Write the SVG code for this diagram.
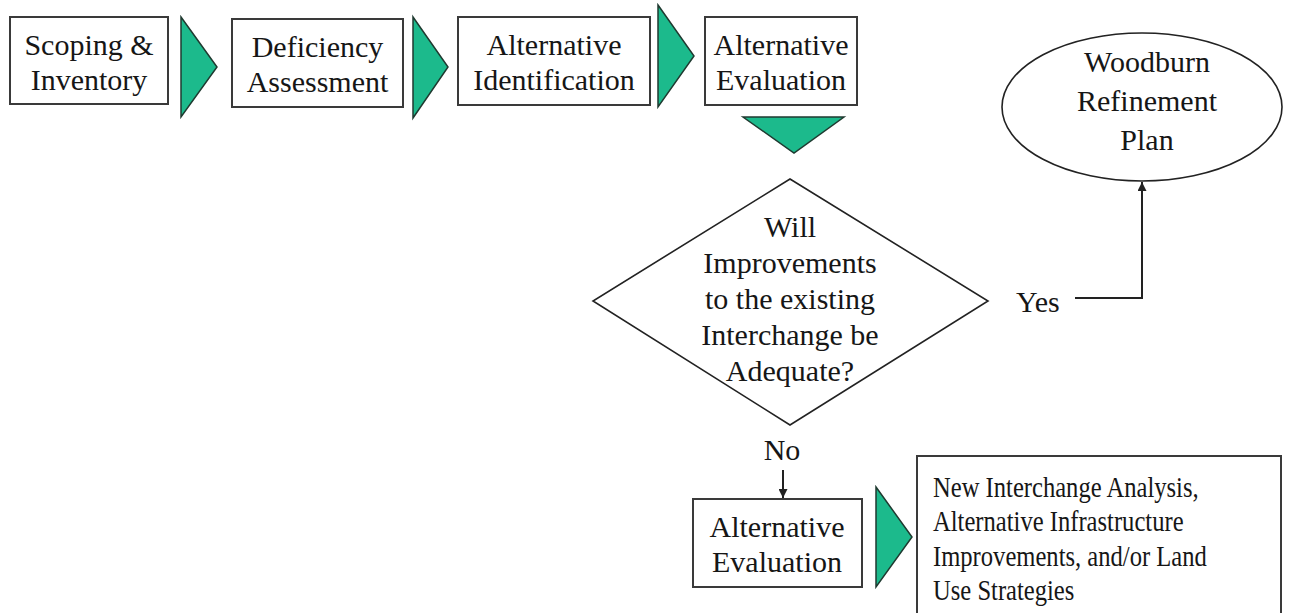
<svg xmlns="http://www.w3.org/2000/svg" width="1290" height="613" viewBox="0 0 1290 613">
<defs>
<style>
.box{fill:#fff;stroke:#3a3a3a;stroke-width:2}
.tri{fill:#1cba8c;stroke:#1f3a30;stroke-width:1.5;stroke-linejoin:miter}
.shape{fill:#fff;stroke:#222;stroke-width:1.6}
.t{font-family:"Liberation Serif","Times New Roman",serif;font-size:30px;fill:#161616}
.c{text-anchor:middle}
.line{fill:none;stroke:#222;stroke-width:2}
</style>
<marker id="arr" viewBox="0 0 10 10" refX="10" refY="5" markerWidth="11" markerHeight="9" orient="auto" markerUnits="userSpaceOnUse">
<path d="M0,0 L10,5 L0,10 z" fill="#222"/>
</marker>
</defs>
<rect width="1290" height="613" fill="#fff"/>

<g id="n1">
<rect class="box" x="10" y="17" width="158" height="87"/>
<text class="t c" x="89" y="55">Scoping &amp;</text>
<text class="t c" x="89" y="90">Inventory</text>
</g>
<g id="a1"><polygon class="tri" points="181,17 217,67 181,117"/></g>

<g id="n2">
<rect class="box" x="232" y="19" width="171" height="88"/>
<text class="t c" x="317.5" y="57">Deficiency</text>
<text class="t c" x="317.5" y="92">Assessment</text>
</g>
<g id="a2"><polygon class="tri" points="413,17 448,67 413,118"/></g>

<g id="n3">
<rect class="box" x="458" y="17" width="192" height="88"/>
<text class="t c" x="554" y="55">Alternative</text>
<text class="t c" x="554" y="90">Identification</text>
</g>
<g id="a3"><polygon class="tri" points="658,5 694,56 658,107"/></g>

<g id="n4">
<rect class="box" x="705" y="17" width="152" height="88"/>
<text class="t c" x="781" y="55">Alternative</text>
<text class="t c" x="781" y="90">Evaluation</text>
</g>
<g id="a4"><polygon class="tri" points="743,117 844,117 794,153"/></g>

<g id="n5">
<polygon class="shape" points="790,179 988,301 790,425 593,301"/>
<text class="t c" x="790" y="237">Will</text>
<text class="t c" x="790" y="273">Improvements</text>
<text class="t c" x="790" y="309">to the existing</text>
<text class="t c" x="790" y="345">Interchange be</text>
<text class="t c" x="790" y="381">Adequate?</text>
</g>

<g id="n6">
<ellipse class="shape" cx="1142" cy="107" rx="140" ry="74"/>
<text class="t c" x="1147" y="72">Woodburn</text>
<text class="t c" x="1147" y="111">Refinement</text>
<text class="t c" x="1147" y="150">Plan</text>
</g>

<g id="n7">
<rect class="box" x="693" y="499" width="169" height="88"/>
<text class="t c" x="777" y="537">Alternative</text>
<text class="t c" x="777" y="572">Evaluation</text>
</g>
<g id="a5"><polygon class="tri" points="876,487 912,537 876,587"/></g>

<g id="n8">
<rect class="box" x="917" y="456" width="364" height="170"/>
<g transform="matrix(0.82 0 0 1 933 0)">
<text class="t" x="0" y="497">New Interchange Analysis,</text>
<text class="t" x="0" y="531">Alternative Infrastructure</text>
<text class="t" x="0" y="566">Improvements, and/or Land</text>
<text class="t" x="0" y="600">Use Strategies</text>
</g>
</g>

<g id="connectors">
<text class="t" x="1016" y="312">Yes</text>
<polyline class="line" points="1075,298 1142,298 1142,182" marker-end="url(#arr)"/>
<text class="t c" x="782" y="460">No</text>
<line class="line" x1="783" y1="470" x2="783" y2="498" marker-end="url(#arr)"/>
</g>
</svg>
